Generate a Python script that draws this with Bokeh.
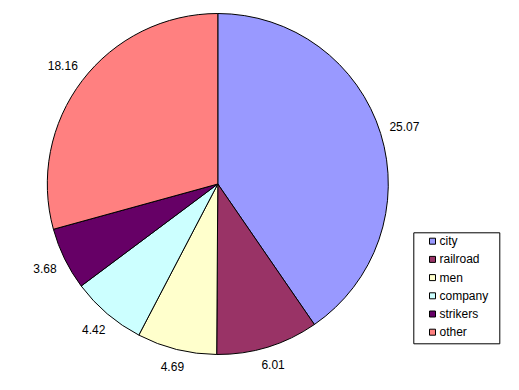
import math
from bokeh.plotting import figure
from bokeh.models import Range1d, ColumnDataSource
from bokeh.core.properties import value
from bokeh.embed import file_html
from bokeh.resources import INLINE

categories = ["city", "railroad", "men", "company", "strikers", "other"]
values = [25.07, 6.01, 4.69, 4.42, 3.68, 18.16]
colors = ["#9999FF", "#993366", "#FFFFCC", "#CCFFFF", "#660066", "#FF8080"]
labels = ["25.07", "6.01", "4.69", "4.42", "3.68", "18.16"]

W, H = 511, 382
cx, cy = 217.3, H - 183.5
R = 170.5
GAP = 8.8
FS = 12


def text_w(s):
    return sum((0.278 if ch == "." else 0.556) * FS for ch in s)


total = sum(values)
starts, ends, lx, ly = [], [], [], []
cum = 0.0
for v, lab in zip(values, labels):
    a0 = math.pi / 2 - cum / total * 2 * math.pi
    a1 = math.pi / 2 - (cum + v) / total * 2 * math.pi
    starts.append(a1)
    ends.append(a0)
    mid = (a0 + a1) / 2
    c, s = math.cos(mid), math.sin(mid)
    rl = R + GAP + abs(c) * text_w(lab) / 2 + abs(s) * FS / 2
    lx.append(cx + rl * c)
    ly.append(cy + rl * s)
    cum += v

p = figure(width=W, height=H, output_backend="svg", toolbar_location=None,
           x_range=Range1d(0, W), y_range=Range1d(0, H), min_border=0)
p.axis.visible = False
p.grid.visible = False
p.outline_line_color = None

src = ColumnDataSource(dict(start=starts, end=ends, color=colors, lx=lx, ly=ly, lab=labels))
p.wedge(x=cx, y=cy, radius=R, start_angle="start", end_angle="end", direction="anticlock",
        fill_color="color", line_color="black", line_width=1, source=src)
p.text(x="lx", y="ly", text="lab", source=src, text_font=value("Liberation Sans"),
       text_font_size=f"{FS}px", text_align="center", text_baseline="middle", text_color="black")

# legend
bx0, bx1 = 413.3, 499.3
by0, by1 = H - 343.3, H - 232.3
p.quad(left=bx0, right=bx1, bottom=by0, top=by1, fill_color="white", line_color="black", line_width=1)
ry = [H - (240.7 + 18.2 * i) for i in range(len(categories))]
lsrc = ColumnDataSource(dict(x=[432] * len(categories), tx=[439] * len(categories), y=ry,
                             color=colors, cat=categories))
p.rect(x="x", y="y", width=6, height=6, fill_color="color", line_color="black", line_width=1, source=lsrc)
p.text(x="tx", y="y", text="cat", source=lsrc, text_font=value("Liberation Sans"),
       text_font_size=f"{FS}px", text_align="left", text_baseline="middle", text_color="black")

open("out.html", "w").write(file_html(p, INLINE))
